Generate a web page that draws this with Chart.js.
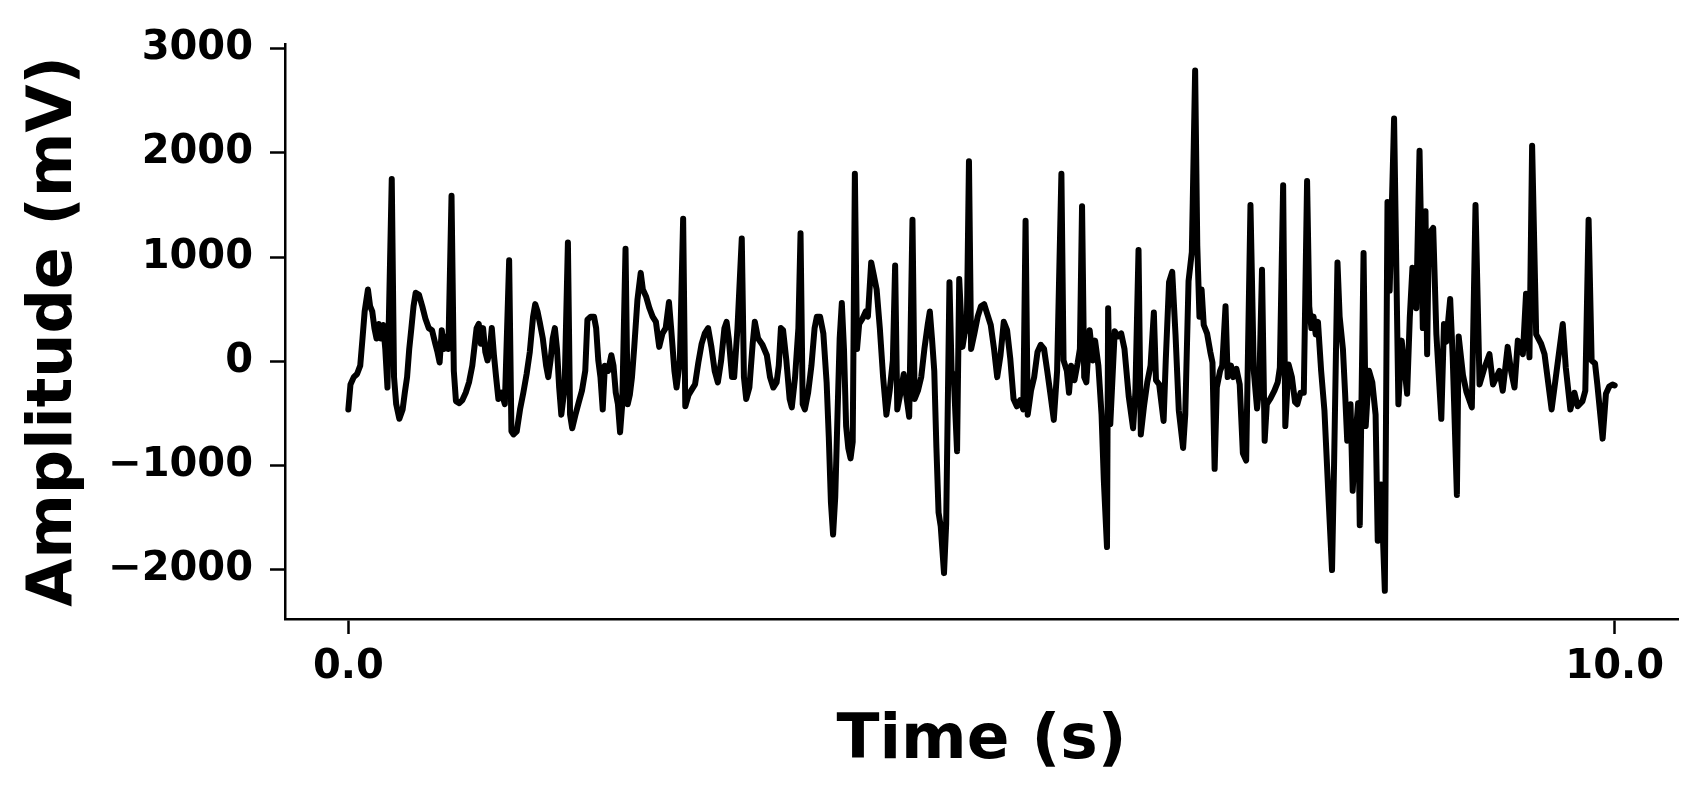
<!DOCTYPE html>
<html>
<head>
<meta charset="utf-8">
<script src="https://cdn.jsdelivr.net/npm/chart.js@4.4.0/dist/chart.umd.min.js"></script>
<style>
  html, body { margin: 0; padding: 0; background: #fff; }
  .chart-container { position: relative; width: 1708px; height: 794px; }
</style>
</head>
<body>
<div class="chart-container"><canvas id="signalChart"></canvas></div>
<script>
// signal (seconds / mV)
const time = [
    0.000,0.017,0.043,0.069,0.094,0.112,0.129,0.155,0.172,0.189,
    0.206,0.223,0.240,0.258,0.275,0.292,0.309,0.343,0.361,0.378,
    0.403,0.429,0.446,0.464,0.481,0.498,0.515,0.532,0.558,0.584,
    0.609,0.635,0.661,0.687,0.704,0.721,0.738,0.755,0.773,0.790,
    0.815,0.833,0.850,0.876,0.901,0.927,0.953,0.979,0.996,1.013,
    1.030,1.047,1.064,1.082,1.099,1.116,1.133,1.150,1.167,1.185,
    1.210,1.236,1.270,1.288,1.305,1.330,1.356,1.382,1.408,1.433,
    1.459,1.476,1.494,1.511,1.536,1.562,1.579,1.597,1.614,1.631,
    1.648,1.665,1.682,1.708,1.734,1.751,1.768,1.794,1.820,1.845,
    1.871,1.888,1.914,1.940,1.957,1.974,1.991,2.009,2.026,2.052,
    2.077,2.094,2.112,2.129,2.146,2.163,2.189,2.206,2.223,2.240,
    2.258,2.283,2.309,2.326,2.352,2.378,2.403,2.429,2.455,2.481,
    2.506,2.532,2.549,2.575,2.592,2.618,2.644,2.661,2.687,2.712,
    2.738,2.764,2.790,2.815,2.841,2.867,2.893,2.918,2.944,2.970,
    2.987,3.004,3.030,3.047,3.073,3.107,3.124,3.142,3.167,3.193,
    3.210,3.236,3.270,3.305,3.330,3.356,3.382,3.399,3.416,3.433,
    3.459,3.485,3.502,3.528,3.554,3.571,3.588,3.605,3.631,3.657,
    3.682,3.700,3.725,3.751,3.777,3.794,3.811,3.828,3.845,3.863,
    3.880,3.897,3.914,3.931,3.948,3.966,3.983,4.000,4.017,4.034,
    4.060,4.086,4.103,4.129,4.146,4.172,4.197,4.223,4.249,4.275,
    4.300,4.318,4.335,4.361,4.386,4.403,4.429,4.455,4.472,4.498,
    4.524,4.549,4.575,4.592,4.609,4.627,4.644,4.661,4.678,4.704,
    4.721,4.747,4.764,4.781,4.807,4.824,4.850,4.867,4.884,4.901,
    4.918,4.944,4.970,4.996,5.021,5.047,5.073,5.099,5.124,5.150,
    5.176,5.202,5.227,5.253,5.279,5.305,5.330,5.348,5.365,5.391,
    5.416,5.442,5.468,5.494,5.519,5.545,5.571,5.597,5.631,5.648,
    5.674,5.691,5.708,5.734,5.760,5.777,5.794,5.811,5.828,5.854,
    5.880,5.897,5.923,5.948,5.966,5.991,6.000,6.017,6.052,6.077,
    6.103,6.129,6.163,6.197,6.215,6.240,6.258,6.283,6.309,6.335,
    6.361,6.378,6.403,6.438,6.455,6.481,6.506,6.532,6.558,6.592,
    6.609,6.635,6.661,6.687,6.704,6.721,6.738,6.755,6.781,6.807,
    6.824,6.841,6.858,6.884,6.901,6.927,6.944,6.970,6.987,7.013,
    7.039,7.064,7.090,7.124,7.150,7.176,7.193,7.215,7.236,7.253,
    7.279,7.313,7.339,7.356,7.382,7.399,7.425,7.451,7.476,7.494,
    7.519,7.545,7.571,7.588,7.605,7.622,7.639,7.657,7.682,7.708,
    7.742,7.768,7.785,7.811,7.828,7.854,7.871,7.888,7.914,7.931,
    7.957,7.974,7.987,8.017,8.034,8.060,8.086,8.112,8.129,8.155,
    8.185,8.206,8.223,8.258,8.292,8.318,8.361,8.382,8.403,8.433,
    8.459,8.485,8.506,8.519,8.532,8.567,8.592,8.631,8.652,8.670,
    8.701,8.721,8.754,8.768,8.802,8.829,8.872,8.901,8.933,8.972,
    9.011,9.039,9.090,9.116,9.155,9.183,9.209,9.235,9.275,9.300,
    9.327,9.348,9.380,9.419,9.446,9.502,9.545,9.590,9.614,9.650,
    9.682,9.708,9.746,9.768,9.794,9.818,9.845,9.863,9.905,9.931,
    9.957,9.983,10.000
];

const amplitude = [
    -460,-220,-150,-120,-40,220,480,690,530,480,
    320,220,360,220,350,120,-250,1750,-150,-410,
    -550,-460,-300,-150,120,320,530,660,640,530,
    410,320,300,170,90,-10,300,120,240,120,
    1590,-90,-380,-400,-370,-300,-200,-40,140,320,
    360,170,320,90,10,90,320,60,-150,-360,
    -300,-410,970,-670,-700,-670,-460,-300,-120,90,
    430,550,480,380,220,-40,-150,10,220,320,
    120,-250,-510,-250,1140,-510,-640,-510,-390,-280,
    -90,400,430,430,320,10,-150,-460,-40,-90,
    60,-40,-300,-410,-680,-410,1080,-410,-320,-150,
    140,590,850,690,620,510,430,380,140,270,
    320,570,320,-90,-250,10,1370,-430,-320,-270,
    -220,-10,170,270,320,140,-90,-200,10,320,
    380,220,-150,-150,320,1180,-150,-360,-250,170,
    380,220,160,60,-150,-250,-200,-40,320,300,
    10,-360,-440,-150,320,1230,-410,-460,-300,-40,
    320,430,430,270,-200,-720,-1350,-1660,-1300,-510,
    220,560,120,-620,-830,-930,-770,1800,120,360,
    410,480,430,950,850,690,320,-150,-510,-280,
    10,920,-460,-300,-120,-300,-530,1360,-360,-280,
    -150,120,350,480,220,-90,-830,-1450,-1580,-2030,
    -1560,760,-90,-150,-860,790,140,270,320,1920,
    120,270,430,530,550,450,350,120,-150,60,
    380,300,30,-360,-430,-370,-460,1350,-510,-280,
    -150,90,160,120,-90,-320,-560,-90,1800,10,
    -90,-300,-40,-180,-10,120,1490,-150,-200,300,
    10,200,-40,-510,-1140,-1780,510,-600,290,240,
    270,120,-340,-640,-300,1070,-700,-430,-200,-40,
    470,-180,-220,-570,10,760,860,260,-470,-830,
    -510,770,1050,2790,1110,430,690,350,270,90,
    -10,-1030,-250,-90,-40,530,-150,-40,-150,-70,
    -220,-880,-950,1500,-90,-450,-250,880,-760,-410,
    -360,-280,-200,-60,1690,-620,-30,-150,-390,-410,
    -300,-300,1730,530,320,430,260,380,-90,-470,
    -1350,-2000,-930,950,430,120,-300,-760,-410,-1240,
    -670,-400,-1570,1040,-620,-90,-200,-510,-1720,-1180,
    -2200,1530,680,2330,-410,200,-310,420,900,510,
    2020,320,1440,70,1220,1280,260,-550,360,190,
    600,40,-1280,240,-130,-290,-440,1500,-220,-60,
    70,-220,-90,-280,140,-100,-250,200,70,650,
    40,2070,260,170,70,-460,-60,360,-60,-460,
    -300,-430,-380,-280,1360,10,-20,-220,-740,-310,
    -240,-220,-230
];

const xTicks = [0, 10];
const yTicks = [-2000, -1000, 0, 1000, 2000, 3000];

const fontFamily = "'DejaVu Sans', sans-serif";

const signalCtx = document.getElementById('signalChart');

new Chart(signalCtx, {
    type: 'line',
    data: {
        datasets: [{
            data: time.map((t, i) => ({ x: t, y: amplitude[i] })),
            borderColor: '#000000',
            borderWidth: 6,
            borderJoinStyle: 'round',
            borderCapStyle: 'round',
            pointRadius: 0,
            tension: 0,
            fill: false
        }]
    },
    options: {
        responsive: true,
        maintainAspectRatio: false,
        animation: false,
        devicePixelRatio: 1,
        layout: {
            padding: { left: 0, top: 44, right: 30, bottom: 0 }
        },
        plugins: {
            legend: { display: false },
            tooltip: { enabled: false }
        },
        scales: {
            x: {
                type: 'linear',
                min: -0.5,
                max: 10.5,
                afterBuildTicks: function(scale) {
                    scale.ticks = xTicks.map(v => ({ value: v }));
                },
                afterFit: function(scale) {
                    scale.height = 175;
                },
                ticks: {
                    callback: v => v.toFixed(1),
                    color: '#000',
                    font: { family: fontFamily, size: 40, weight: 'bold' },
                    padding: 10,
                    maxRotation: 0,
                    autoSkip: false
                },
                grid: {
                    drawOnChartArea: false,
                    drawTicks: true,
                    tickLength: 15,
                    tickWidth: 2.5,
                    tickColor: '#000'
                },
                border: { display: true, color: '#000', width: 2.5 },
                title: {
                    display: true,
                    text: 'Time (s)',
                    color: '#000',
                    font: { family: fontFamily, size: 63, weight: 'bold' },
                    padding: { top: 0, bottom: 15 }
                }
            },
            y: {
                min: -2470,
                max: 3045,
                afterBuildTicks: function(scale) {
                    scale.ticks = yTicks.map(v => ({ value: v }));
                },
                afterFit: function(scale) {
                    scale.width = 285;
                },
                ticks: {
                    callback: v => (v < 0 ? '\u2212' + Math.abs(v) : String(v)),
                    color: '#000',
                    font: { family: fontFamily, size: 40, weight: 'bold' },
                    padding: 17,
                    autoSkip: false
                },
                grid: {
                    drawOnChartArea: false,
                    drawTicks: true,
                    tickLength: 15,
                    tickWidth: 2.5,
                    tickColor: '#000'
                },
                border: { display: true, color: '#000', width: 2.5 },
                title: {
                    display: true,
                    text: 'Amplitude (mV)',
                    color: '#000',
                    font: { family: fontFamily, size: 62, weight: 'bold' },
                    padding: { top: 18, bottom: 0 }
                }
            }
        }
    }
});
</script>
</body>
</html>
